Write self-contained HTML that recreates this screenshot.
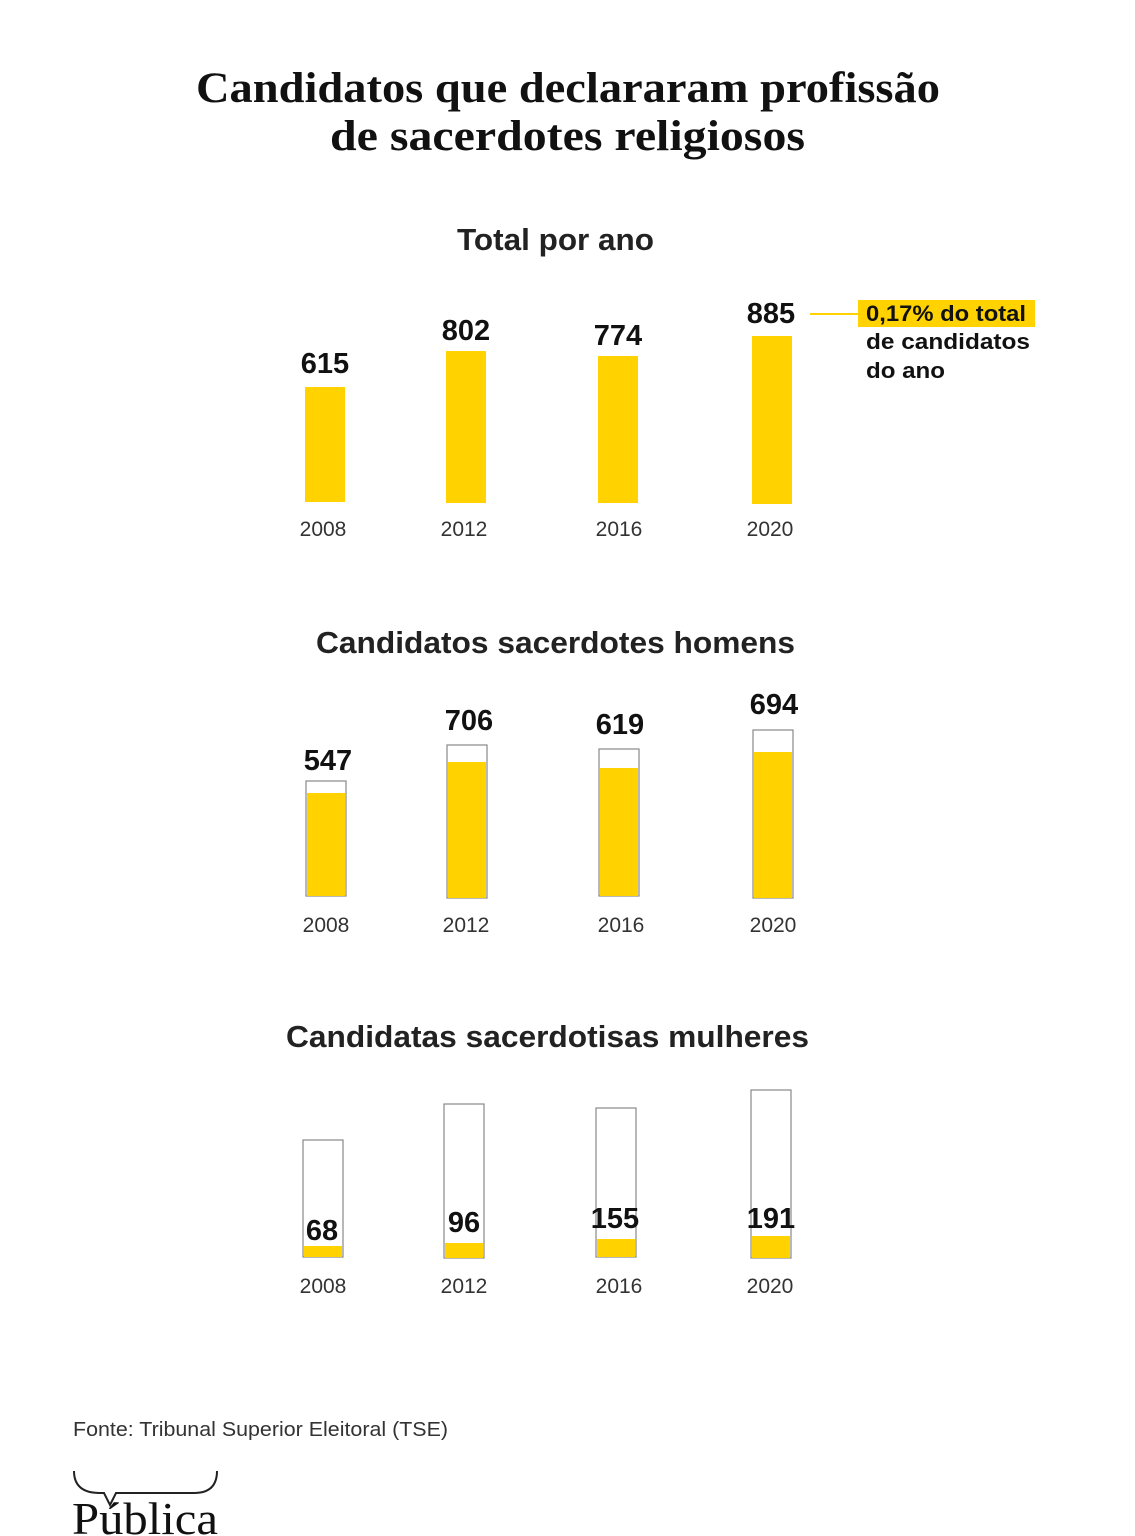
<!DOCTYPE html>
<html><head><meta charset="utf-8"><style>
html,body{margin:0;padding:0;background:#fff;}
svg{display:block;}
.t{font-family:"Liberation Serif",serif;font-weight:bold;font-size:43px;fill:#111;}
.h{font-family:"Liberation Sans",sans-serif;font-weight:bold;font-size:31px;fill:#222;}
.v{font-family:"Liberation Sans",sans-serif;font-weight:bold;font-size:29px;fill:#111;}
.y{font-family:"Liberation Sans",sans-serif;font-size:21px;fill:#333;}
.a{font-family:"Liberation Sans",sans-serif;font-weight:bold;font-size:22px;fill:#111;}
</style></head><body>
<svg width="1135" height="1536" viewBox="0 0 1135 1536">
<text class="t" x="196" y="102" textLength="744" lengthAdjust="spacingAndGlyphs">Candidatos que declararam profissão</text>
<text class="t" x="330" y="150" textLength="475" lengthAdjust="spacingAndGlyphs">de sacerdotes religiosos</text>

<text class="h" x="457" y="250" textLength="197" lengthAdjust="spacingAndGlyphs">Total por ano</text>
<g fill="#FFD200">
<rect x="305" y="387" width="40" height="115"/>
<rect x="446" y="351" width="40" height="152"/>
<rect x="598" y="356" width="40" height="147"/>
<rect x="752" y="336" width="40" height="168"/>
</g>
<g text-anchor="middle">
<text class="v" x="325" y="373">615</text>
<text class="v" x="466" y="340">802</text>
<text class="v" x="618" y="345">774</text>
<text class="v" x="771" y="323">885</text>
<text class="y" x="323" y="536">2008</text>
<text class="y" x="464" y="536">2012</text>
<text class="y" x="619" y="536">2016</text>
<text class="y" x="770" y="536">2020</text>
</g>
<line x1="810" y1="314" x2="858" y2="314" stroke="#FFD200" stroke-width="2"/>
<rect x="858" y="300" width="177" height="27" fill="#FFD200"/>
<text class="a" x="866" y="321" textLength="160" lengthAdjust="spacingAndGlyphs">0,17% do total</text>
<text class="a" x="866" y="349" textLength="164" lengthAdjust="spacingAndGlyphs">de candidatos</text>
<text class="a" x="866" y="378" textLength="79" lengthAdjust="spacingAndGlyphs">do ano</text>

<text class="h" x="316" y="653" textLength="479" lengthAdjust="spacingAndGlyphs">Candidatos sacerdotes homens</text>
<g fill="#fff" stroke="#888" stroke-width="1.2">
<rect x="306" y="781" width="40" height="115"/>
<rect x="447" y="745" width="40" height="153"/>
<rect x="599" y="749" width="40" height="147"/>
<rect x="753" y="730" width="40" height="168"/>
</g>
<g fill="#FFD200">
<rect x="307" y="793" width="38" height="103"/>
<rect x="448" y="762" width="38" height="136"/>
<rect x="600" y="768" width="38" height="128"/>
<rect x="754" y="752" width="38" height="146"/>
</g>
<g text-anchor="middle">
<text class="v" x="328" y="770">547</text>
<text class="v" x="469" y="730">706</text>
<text class="v" x="620" y="734">619</text>
<text class="v" x="774" y="714">694</text>
<text class="y" x="326" y="932">2008</text>
<text class="y" x="466" y="932">2012</text>
<text class="y" x="621" y="932">2016</text>
<text class="y" x="773" y="932">2020</text>
</g>

<text class="h" x="286" y="1047" textLength="523" lengthAdjust="spacingAndGlyphs">Candidatas sacerdotisas mulheres</text>
<g fill="#fff" stroke="#888" stroke-width="1.2">
<rect x="303" y="1140" width="40" height="117"/>
<rect x="444" y="1104" width="40" height="154"/>
<rect x="596" y="1108" width="40" height="149"/>
<rect x="751" y="1090" width="40" height="168"/>
</g>
<g fill="#FFD200">
<rect x="304" y="1246" width="38" height="11"/>
<rect x="445" y="1243" width="38" height="15"/>
<rect x="597" y="1239" width="38" height="18"/>
<rect x="752" y="1236" width="38" height="22"/>
</g>
<g text-anchor="middle">
<text class="v" x="322" y="1240">68</text>
<text class="v" x="464" y="1232">96</text>
<text class="v" x="615" y="1228">155</text>
<text class="v" x="771" y="1228">191</text>
<text class="y" x="323" y="1293">2008</text>
<text class="y" x="464" y="1293">2012</text>
<text class="y" x="619" y="1293">2016</text>
<text class="y" x="770" y="1293">2020</text>
</g>

<text x="73" y="1436" font-family="Liberation Sans, sans-serif" font-size="20" fill="#333" textLength="375" lengthAdjust="spacingAndGlyphs">Fonte: Tribunal Superior Eleitoral (TSE)</text>
<path d="M74 1471 Q74 1493 100 1493 L104 1493 L110 1505 L116 1493 L194 1493 Q217 1493 217 1471" fill="none" stroke="#222" stroke-width="2"/>
<text x="72" y="1534" font-family="Liberation Serif, serif" font-size="46" fill="#111" textLength="146" lengthAdjust="spacingAndGlyphs">Pública</text>
</svg>
</body></html>
